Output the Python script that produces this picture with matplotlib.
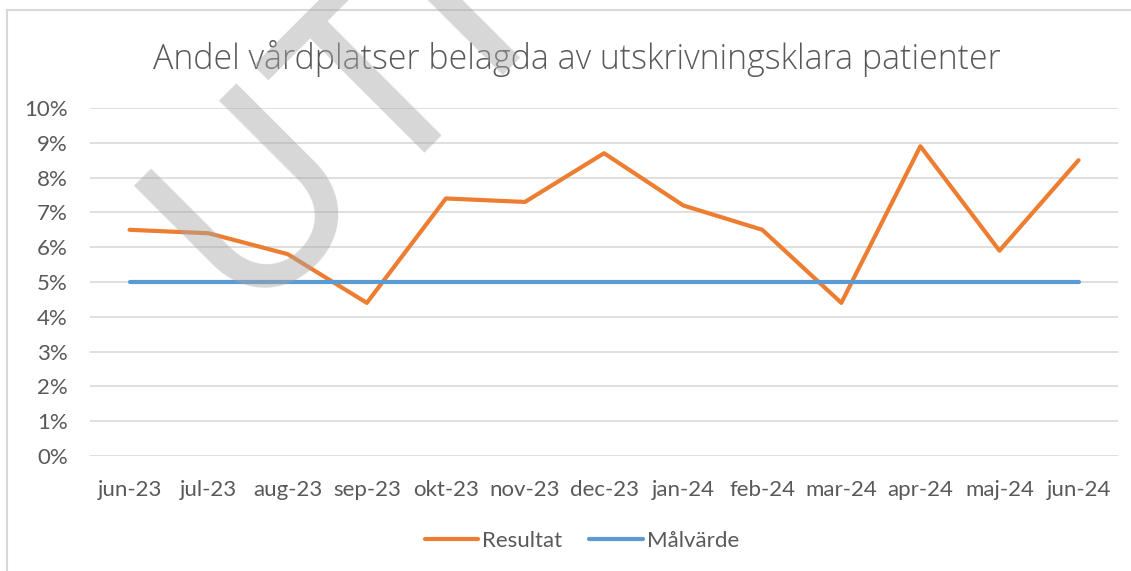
import matplotlib.pyplot as plt
from matplotlib.patches import Rectangle

plt.rcParams['font.family'] = ['Lato', 'DejaVu Sans']

# data
months = ['jun-23', 'jul-23', 'aug-23', 'sep-23', 'okt-23', 'nov-23', 'dec-23',
          'jan-24', 'feb-24', 'mar-24', 'apr-24', 'maj-24', 'jun-24']
resultat = [6.5, 6.4, 5.8, 4.4, 7.4, 7.3, 8.7, 7.2, 6.5, 4.4, 8.9, 5.9, 8.5]
malvarde = [5.0] * 13
yticks = list(range(0, 11))
ytick_labels = ['%d%%' % v for v in yticks]

txt = '#595959'

fig = plt.figure(figsize=(11.31, 5.71), dpi=100)
ax = fig.add_axes([0.0796, 0.2014, 0.909, 0.6095])

x = list(range(len(months)))
ax.plot(x, resultat, color='#ED7D31', lw=3, solid_capstyle='round',
        solid_joinstyle='round', label='Resultat', zorder=3)
ax.plot(x, malvarde, color='#5B9BD5', lw=3, solid_capstyle='round',
        label='Målvärde', zorder=3)

ax.set_xlim(-0.5, len(months) - 0.5)
ax.set_ylim(0, 10)
ax.set_yticks(yticks)
ax.set_yticklabels(ytick_labels)
ax.set_xticks(x)
ax.set_xticklabels(months)
ax.grid(axis='y', color='#D9D9D9', lw=1.2)
ax.set_axisbelow(True)
for s in ax.spines.values():
    s.set_visible(False)
ax.tick_params(length=0, labelsize=16, colors=txt)
ax.tick_params(axis='x', pad=17)
ax.tick_params(axis='y', pad=16)

fig.text(0.51, 0.898, 'Andel vårdplatser belagda av utskrivningsklara patienter',
         ha='center', va='center', fontsize=24.4, color=txt,
         family=['Open Sans', 'Lato', 'DejaVu Sans'], fontweight='light')

leg = fig.legend(loc='center', bbox_to_anchor=(0.5146, 0.0525), ncol=2,
                 frameon=False, fontsize=16, handlelength=2.4,
                 columnspacing=1.2, handletextpad=0.2)
for t in leg.get_texts():
    t.set_color(txt)

# chart border
fig.patches.append(Rectangle((7 / 1131, -0.1), 1.2, 1 - 10 / 571 + 0.1,
                             transform=fig.transFigure, fill=False,
                             edgecolor='#D9D9D9', lw=1.5))

# watermark
fig.text(0.1695, 0.5385, 'UTKAST', rotation=45, rotation_mode='anchor',
         ha='left', va='center', fontsize=183, color='#a6a6a6', alpha=0.45,
         zorder=10)

fig.savefig('out.png', dpi=100)
